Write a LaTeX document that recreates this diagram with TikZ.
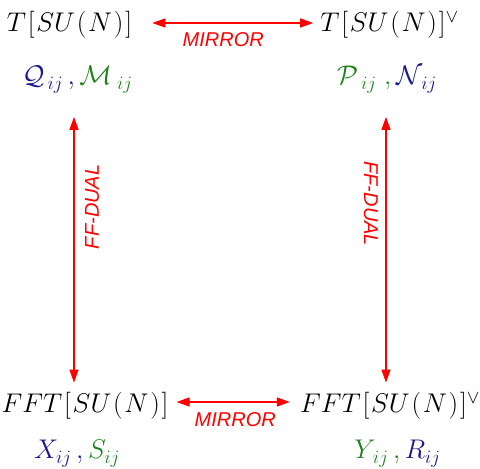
\RequirePackage{fix-cm}
\documentclass[tikz,border=0pt]{standalone}
\usepackage{fontspec}
\setsansfont{Liberation Sans}
\usetikzlibrary{arrows.meta}
\definecolor{mblue}{RGB}{25,25,140}
\definecolor{mgreen}{RGB}{30,130,30}
\definecolor{mred}{RGB}{255,0,0}
\newcommand{\gp}{\mskip1.2mu}
\begin{document}
\begin{tikzpicture}[x=1pt,y=1pt,
  mathtxt/.style={inner sep=0pt, anchor=base, font=\fontsize{27}{32}\selectfont},
  arr/.style={draw=mred, line width=1.3pt, {Triangle[length=13pt,width=9pt]}-{Triangle[length=13pt,width=9pt]}},
  lbl/.style={text=mred, inner sep=0pt, font=\fontsize{20}{24}\selectfont\sffamily\itshape}]
\useasboundingbox (0,0) rectangle (480,469);
% nodes
\node[mathtxt] (TL) at (69.5,437) {$T\gp[\gp SU\gp(\gp N\gp)\gp]$};
\node[mathtxt] (TR) at (389.5,437) {$T\gp[\gp SU\gp(\gp N\gp)\gp]^{\vee}$};
\node[mathtxt] (QM) at (77.5,384) {$\color{mblue}\mathcal{Q}_{\,ij}\,,\color{mgreen}\mathcal{M}_{\;ij}$};
\node[mathtxt] (PN) at (387,384) {$\color{mgreen}\mathcal{P}_{\;ij}\;,\color{mblue}\mathcal{N}_{\,ij}$};
\node[mathtxt] (BL) at (85,56) {$FFT\gp[\gp SU\gp(\gp N\gp)\gp]$};
\node[mathtxt] (BR) at (390,56) {$FFT\gp[\gp SU\gp(\gp N\gp)\gp]^{\vee}$};
\node[mathtxt] (XS) at (77,10) {$\color{mblue}X_{ij}\,,\color{mgreen}S_{ij}$};
\node[mathtxt] (YR) at (397.5,10) {$\color{mgreen}Y_{\,ij}\,,\color{mblue}R_{ij}$};
\coordinate (lx) at (74,0);
\coordinate (rx) at (386,0);
% connectors
\draw[arr, shorten <=20pt, shorten >=7pt] (TL.east |- 0,446) -- (TR.west |- 0,446)
  node[lbl, midway, yshift=-17pt, xshift=-3pt] {MIRROR};
\draw[arr, shorten <=8pt, shorten >=10pt] (BL.east |- 0,67) -- (BR.west |- 0,67)
  node[lbl, midway, yshift=-18pt, xshift=1pt] {MIRROR};
\draw[arr, shorten <=24pt, shorten >=10pt] (QM.south -| lx) -- (BL.north -| lx)
  node[lbl, pos=0.38, xshift=18pt, rotate=90] {FF-DUAL};
\draw[arr, shorten <=24pt, shorten >=10pt] (PN.south -| rx) -- (BR.north -| rx)
  node[lbl, pos=0.37, xshift=-15pt, rotate=-90] {FF-DUAL};
\end{tikzpicture}
\end{document}
